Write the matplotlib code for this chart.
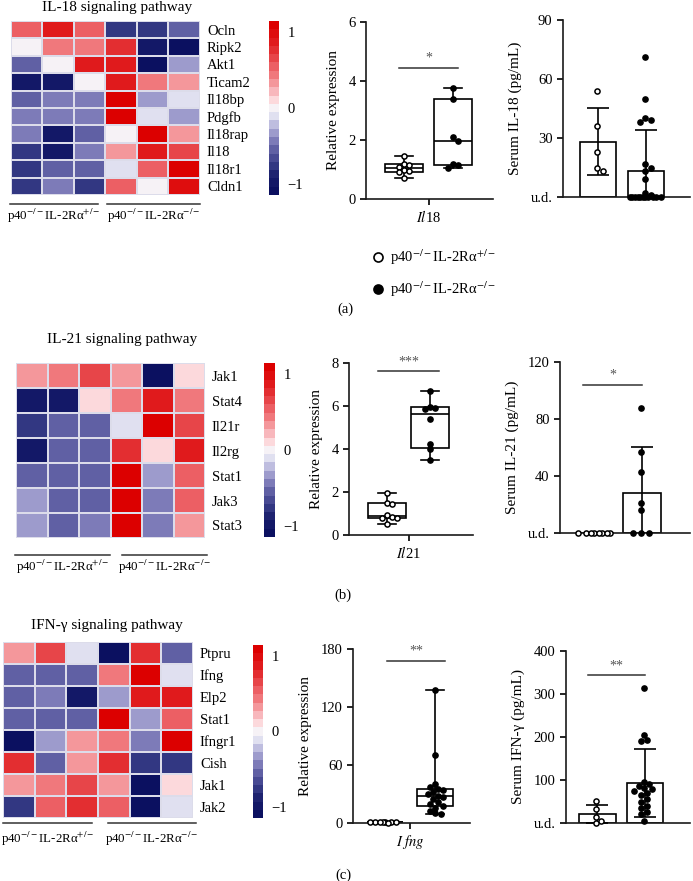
import numpy as np
import matplotlib
matplotlib.use('Agg')
import matplotlib.pyplot as plt
from matplotlib.colors import LinearSegmentedColormap, Normalize
from matplotlib.lines import Line2D

plt.rcParams['font.family'] = ['Liberation Serif', 'DejaVu Serif']
plt.rcParams['mathtext.fontset'] = 'stix'
plt.rcParams['font.size'] = 10.5

# ---------------- data ----------------
het_label = 'p40$^{-/-}$IL-2Rα$^{+/-}$'
ko_label = 'p40$^{-/-}$IL-2Rα$^{-/-}$'

il18_genes = ['Ocln', 'Ripk2', 'Akt1', 'Ticam2', 'Il18bp', 'Pdgfb', 'Il18rap', 'Il18', 'Il18r1', 'Cldn1']
il18_heat = [[0.6, 0.9, 0.6, -0.8, -0.8, -0.6],
             [0.05, 0.45, 0.45, 0.8, -0.95, -1.1],
             [-0.6, 0.05, 0.85, 0.85, -1.1, -0.3],
             [-0.95, -0.95, 0.05, 0.85, 0.45, 0.3],
             [-0.6, -0.45, -0.45, 1.1, -0.3, -0.1],
             [-0.45, -0.45, -0.45, 1.1, -0.1, -0.3],
             [-0.45, -0.95, -0.6, 0.05, 1.1, 0.3],
             [-0.8, -0.95, -0.45, 0.3, 0.9, 0.7],
             [-0.8, -0.6, -0.6, -0.1, 0.6, 1.1],
             [-0.8, -0.45, -0.8, 0.6, 0.05, 1.0]]

il21_genes = ['Jak1', 'Stat4', 'Il21r', 'Il2rg', 'Stat1', 'Jak3', 'Stat3']
il21_heat = [[0.3, 0.45, 0.7, 0.3, -1.1, 0.1],
             [-1.0, -1.0, 0.1, 0.45, 0.9, 0.45],
             [-0.75, -0.6, -0.6, -0.1, 1.1, 0.7],
             [-1.0, -0.6, -0.6, 0.8, 0.1, 0.9],
             [-0.6, -0.6, -0.6, 1.1, -0.3, 0.6],
             [-0.3, -0.6, -0.6, 1.1, -0.45, 0.6],
             [-0.3, -0.6, -0.45, 1.1, -0.45, 0.3]]

ifng_genes = ['Ptpru', 'Ifng', 'Elp2', 'Stat1', 'Ifngr1', 'Cish', 'Jak1', 'Jak2']
ifng_heat = [[0.3, 0.7, -0.1, -1.1, 0.8, -0.6],
             [-0.6, -0.6, -0.6, 0.45, 1.1, -0.1],
             [-0.6, -0.45, -1.0, -0.3, 0.9, 0.9],
             [-0.6, -0.6, -0.6, 1.1, -0.3, 0.6],
             [-1.1, -0.3, 0.3, 0.45, -0.45, 1.1],
             [0.8, -0.6, 0.3, 0.8, -0.8, -0.8],
             [0.3, 0.45, 0.7, 0.3, -1.1, 0.1],
             [-0.8, 0.55, 0.8, 0.6, -1.1, -0.1]]

il18_rel_het = [1.45, 1.2, 1.15, 1.1, 1.0, 0.95, 0.9, 0.7]
il18_rel_ko = [3.75, 3.4, 2.1, 1.95, 1.2, 1.15, 1.05]
il18_ser_het = [54, 36, 23, 15, 13]
il18_ser_ko = [71, 50, 40, 39, 38, 17, 15, 13, 9, 2, 1, 0, 0, 0, 0, 0, 0, 0, 0, 0, 0, 0]

il21_rel_het = [1.95, 1.5, 1.45, 0.95, 0.85, 0.8, 0.8, 0.5]
il21_rel_ko = [6.7, 5.95, 5.9, 5.85, 5.4, 4.25, 4.0, 3.5]
il21_ser_het = [0, 0, 0, 0, 0, 0, 0, 0]
il21_ser_ko = [88, 57, 43, 21, 16, 0, 0, 0]

ifng_rel_het = [1.0, 0.8, 1.2, 0.6, 0.9, 1.1, 0.7, 0.5]
ifng_rel_ko = [138, 70, 40, 37, 35, 34, 32, 30, 28, 27, 25, 22, 20, 18, 16, 12, 10, 9]
ifng_ser_het = [52, 33, 15, 5, 0]
ifng_ser_ko = [315, 205, 193, 190, 95, 90, 85, 82, 78, 75, 70, 65, 55, 48, 40, 35, 25, 20, 5]

# ---------------- layout ----------------
W, H = 693, 881
fig = plt.figure(figsize=(W / 100, H / 100), dpi=100)


def rect(r):
    x0, y0, x1, y1 = r
    return [x0 / W, 1 - y1 / H, (x1 - x0) / W, (y1 - y0) / H]


cmap = LinearSegmentedColormap.from_list('heat', [
    (0.0, '#0b1060'), (0.09, '#1a1f6c'), (0.15, '#323782'), (0.24, '#5a5aa0'),
    (0.30, '#7d7bb8'), (0.37, '#aaa8d4'), (0.45, '#e0e0f0'), (0.5, '#f6f2f6'),
    (0.54, '#fde0e3'), (0.63, '#f6a3a8'), (0.70, '#f0787c'), (0.76, '#eb5a5f'),
    (0.82, '#e53a3e'), (0.9, '#e01a1c'), (1.0, '#dc0000')], N=21)
norm = Normalize(-1.15, 1.15)


def heatmap(r_hm, r_cb, data, genes, title, title_xy, lines, label_y):
    ax = fig.add_axes(rect(r_hm))
    data = np.asarray(data)
    m = ax.pcolormesh(data, cmap=cmap, norm=norm, edgecolors='#dcdcea', linewidth=0.3)
    ax.set_xlim(0, data.shape[1])
    ax.set_ylim(data.shape[0], 0)
    ax.set_xticks([])
    ax.set_yticks(np.arange(len(genes)) + 0.5)
    ax.set_yticklabels(genes)
    ax.tick_params(axis='y', length=0, pad=5, labelright=True, labelleft=False)
    for s in ax.spines.values():
        s.set_visible(False)
    cax = fig.add_axes(rect(r_cb))
    cb = fig.colorbar(m, cax=cax, ticks=[-1, 0, 1])
    cb.set_ticklabels(['\u22121', '0', '1'])
    cb.outline.set_visible(False)
    cax.tick_params(length=0, pad=6)
    fig.text(title_xy[0] / W, 1 - title_xy[1] / H, title, ha='center', va='center', fontsize=11)
    for (x0, x1, y), lab in zip(lines, [het_label, ko_label]):
        fig.add_artist(Line2D([x0 / W, x1 / W], [1 - y / H, 1 - y / H], color='#333333', lw=1.1))
        fig.text((x0 + x1) / 2 / W, 1 - label_y / H, lab, ha='center', va='center', fontsize=9.3)


def swarm(vals, ypx, xpx, diam, maxw):
    vals = np.asarray(vals, float)
    placed = []
    offs = np.zeros(len(vals))
    cand = np.arange(-maxw, maxw + 0.01, diam / 2)
    cand = cand[np.argsort(np.abs(cand), kind='stable')]
    for i in np.argsort(-vals, kind='stable'):
        y = vals[i] * ypx
        best, bestd = 0.0, -1
        for c in cand:
            dmin = min([np.hypot(c - a, y - b) for a, b in placed], default=1e9)
            if dmin >= diam:
                best = c
                break
            if dmin > bestd:
                best, bestd = c, dmin
        placed.append((best, y))
        offs[i] = best / xpx
    return offs


def style(ax, ylim, yticks, yticklabels, ylabel, labelpad):
    ax.set_ylim(*ylim)
    ax.set_yticks(yticks)
    ax.set_yticklabels(yticklabels)
    ax.set_ylabel(ylabel, fontsize=11, labelpad=labelpad)
    for s in ['top', 'right']:
        ax.spines[s].set_visible(False)
    for s in ['left', 'bottom']:
        ax.spines[s].set_linewidth(1.2)
        ax.spines[s].set_color('#1a1a1a')
    ax.tick_params(direction='out', length=4, width=1.2, labelsize=10.5)


def points(ax, r, xlim, ylim, groups, diam, maxw):
    xpx = (r[2] - r[0]) / (xlim[1] - xlim[0])
    ypx = (r[3] - r[1]) / (ylim[1] - ylim[0])
    for pos, vals, face in zip([1, 2], groups, ['white', 'black']):
        off = swarm(vals, ypx, xpx, diam, maxw)
        ax.plot(pos + off, vals, 'o', ms=3.7, mfc=face, mec='black', mew=1.1,
                ls='none', zorder=6, clip_on=False)


def sig(ax, x0, x1, y, txt, dy):
    ax.plot([x0, x1], [y, y], color='#333333', lw=1.1, clip_on=False)
    ax.text((x0 + x1) / 2, y + dy, txt, ha='center', va='bottom', color='#555555', fontsize=10)


def boxpanel(r, g1, g2, xlim, width, ylim, yticks, gene, diam=5.2, labelpad=6, sigdef=None):
    ax = fig.add_axes(rect(r))
    stats = []
    for vals in (g1, g2):
        q1, med, q3 = np.percentile(vals, [25, 50, 75], method='weibull')
        stats.append(dict(med=med, q1=q1, q3=q3, whislo=min(vals), whishi=max(vals), fliers=[]))
    lp = dict(color='black', lw=1.2)
    ax.bxp(stats, positions=[1, 2], widths=width, showfliers=False, patch_artist=True,
           boxprops=dict(facecolor='white', edgecolor='black', lw=1.2),
           medianprops=lp, whiskerprops=lp, capprops=lp, capwidths=width * 0.5)
    points(ax, r, xlim, ylim, (g1, g2), diam, (r[2] - r[0]) / (xlim[1] - xlim[0]) * width * 0.42)
    ax.set_xlim(*xlim)
    ax.set_xticks([1.5])
    ax.set_xticklabels([gene], fontsize=11)
    style(ax, ylim, yticks, [str(t) for t in yticks], 'Relative expression', labelpad)
    if sigdef:
        sig(ax, *sigdef)
    return ax


def barpanel(r, g1, g2, xlim, width, ylim, yticks, ylabel, diam=5.2, labelpad=6, sigdef=None):
    ax = fig.add_axes(rect(r))
    means = [np.mean(g1), np.mean(g2)]
    sds = [np.std(g1, ddof=1), np.std(g2, ddof=1)]
    ax.bar([1, 2], means, width, color='white', edgecolor='black', lw=1.2, zorder=2)
    ax.errorbar([1, 2], means, yerr=sds, fmt='none', ecolor='black', elinewidth=1.2,
                capsize=8, capthick=1.2, zorder=3)
    points(ax, r, xlim, ylim, (g1, g2), diam, (r[2] - r[0]) / (xlim[1] - xlim[0]) * width * 0.45)
    ax.set_xlim(*xlim)
    ax.set_xticks([])
    labels = ['u.d.'] + [str(t) for t in yticks[1:]]
    style(ax, ylim, yticks, labels, ylabel, labelpad)
    if sigdef:
        sig(ax, *sigdef)
    return ax


# ---------------- panel (a) ----------------
heatmap((11, 21, 200, 195), (269, 21, 279, 195), il18_heat, il18_genes,
        'IL-18 signaling pathway', (117, 8), [(10, 98, 204), (107, 200, 204)], 216)
boxpanel((366, 22, 493, 199), il18_rel_het, il18_rel_ko, (0.224, 2.816), 0.77,
         (0, 6), [0, 2, 4, 6], '$\\mathit{Il}$18', sigdef=(0.9, 2.1, 4.45, '*', 0.12))
barpanel((563, 20, 690, 197), il18_ser_het, il18_ser_ko, (0.27, 2.92), 0.75,
         (0, 90), [0, 30, 60, 90], 'Serum IL-18 (pg/mL)')
fig.legend(handles=[Line2D([], [], marker='o', ls='none', ms=6.5, mfc='white', mec='black', mew=1.2),
                    Line2D([], [], marker='o', ls='none', ms=6.5, mfc='black', mec='black', mew=1.2)],
           labels=[het_label, ko_label], loc='upper left', bbox_to_anchor=(356 / W, 1 - 234 / H),
           frameon=False, fontsize=10.5, handletextpad=0.2, labelspacing=0.9, handlelength=1.2)
fig.text(345 / W, 1 - 309 / H, '(a)', ha='center', va='center', fontsize=10.5)

# ---------------- panel (b) ----------------
heatmap((16, 363, 205, 538), (264, 363, 275, 537), il21_heat, il21_genes,
        'IL-21 signaling pathway', (122, 339), [(15, 110, 555), (122, 207, 555)], 567)
boxpanel((349, 363, 473, 535), il21_rel_het, il21_rel_ko, (0.116, 3.0), 0.88,
         (0, 8), [0, 2, 4, 6, 8], '$\\mathit{Il}$21', sigdef=(0.8, 2.2, 7.65, '***', 0.1))
barpanel((560, 362, 690, 533), il21_ser_het, il21_ser_ko, (0.255, 3.02), 0.79,
         (0, 120), [0, 40, 80, 120], 'Serum IL-21 (pg/mL)', sigdef=(0.75, 2.0, 104, '*', 2))
fig.text(343 / W, 1 - 595 / H, '(b)', ha='center', va='center', fontsize=10.5)

# ---------------- panel (c) ----------------
heatmap((3, 642, 193, 818), (253, 645, 263, 818), ifng_heat, ifng_genes,
        'IFN-γ signaling pathway', (107, 625), [(3, 92, 823), (108, 196, 823)], 839)
boxpanel((353, 649, 470, 823), ifng_rel_het, ifng_rel_ko, (0.36, 2.7), 0.72,
         (0, 180), [0, 60, 120, 180], '$I\\ fng$', sigdef=(1.04, 2.2, 168, '**', 3))
barpanel((566, 651, 690, 823), ifng_ser_het, ifng_ser_ko, (0.35, 2.94), 0.77,
         (0, 400), [0, 100, 200, 300, 400], 'Serum IFN-γ (pg/mL)', sigdef=(0.8, 2.0, 345, '**', 6))
fig.text(343 / W, 1 - 875 / H, '(c)', ha='center', va='center', fontsize=10.5)

fig.savefig('out.png', dpi=100)
